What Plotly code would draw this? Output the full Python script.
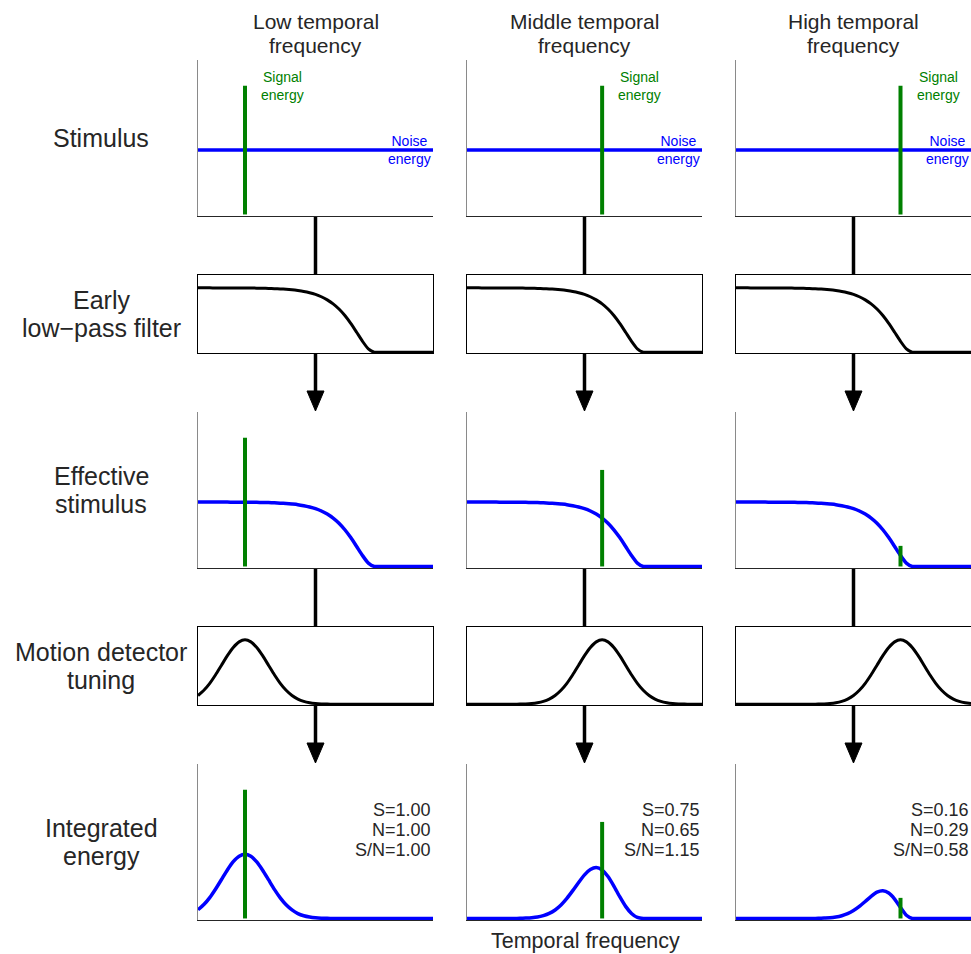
import plotly.graph_objects as go

# ---- data -------------------------------------------------------------
# temporal-frequency axis, expressed as a fraction of the plotted range
freq = [0.000, 0.025, 0.050, 0.075, 0.100, 0.125, 0.150, 0.175, 0.200, 0.225,
        0.250, 0.275, 0.300, 0.325, 0.350, 0.375, 0.400, 0.425, 0.450, 0.475,
        0.500, 0.525, 0.550, 0.575, 0.600, 0.625, 0.650, 0.675, 0.700, 0.725,
        0.750, 0.775, 0.800, 0.825, 0.850, 0.875, 0.900, 0.925, 0.950, 0.975,
        1.000]

columns = ["Low temporal<br>frequency", "Middle temporal<br>frequency",
           "High temporal<br>frequency"]
rows = ["Stimulus", "Early<br>low\u2212pass filter", "Effective<br>stimulus",
        "Motion detector<br>tuning", "Integrated<br>energy"]

# stimulus
noise_energy = 0.5
signal_freq = [0.200, 0.575, 0.700]
signal_energy = [1.0, 1.0, 1.0]

# early low-pass filter gain
lowpass = [1.000, 1.000, 1.000, 0.999, 0.999, 0.999, 0.999, 0.998, 0.998, 0.997,
           0.996, 0.994, 0.992, 0.988, 0.984, 0.978, 0.970, 0.959, 0.945, 0.925,
           0.898, 0.862, 0.814, 0.752, 0.672, 0.571, 0.449, 0.311, 0.170, 0.051,
           0.000, 0.000, 0.000, 0.000, 0.000, 0.000, 0.000, 0.000, 0.000, 0.000,
           0.000]

# noise energy after filtering
effective_noise = [0.500, 0.500, 0.500, 0.500, 0.500, 0.500, 0.499, 0.499, 0.499, 0.498,
                   0.498, 0.497, 0.496, 0.494, 0.492, 0.489, 0.485, 0.480, 0.472, 0.462,
                   0.449, 0.431, 0.407, 0.376, 0.336, 0.285, 0.224, 0.155, 0.085, 0.026,
                   0.000, 0.000, 0.000, 0.000, 0.000, 0.000, 0.000, 0.000, 0.000, 0.000,
                   0.000]

# motion detector tuning, one curve per column
tuning = [
    [0.1353, 0.2163, 0.3247, 0.4578, 0.6065, 0.7548, 0.8825, 0.9692, 1.0000, 0.9692,
     0.8825, 0.7548, 0.6065, 0.4578, 0.3247, 0.2163, 0.1353, 0.0796, 0.0439, 0.0228,
     0.0111, 0.0051, 0.0022, 0.0009, 0.0003, 0.0000, 0.0000, 0.0000, 0.0000, 0.0000,
     0.0000, 0.0000, 0.0000, 0.0000, 0.0000, 0.0000, 0.0000, 0.0000, 0.0000, 0.0000,
     0.0000],
    [0.0000, 0.0000, 0.0000, 0.0000, 0.0000, 0.0000, 0.0000, 0.0003, 0.0009, 0.0022,
     0.0051, 0.0111, 0.0228, 0.0439, 0.0796, 0.1353, 0.2163, 0.3247, 0.4578, 0.6065,
     0.7548, 0.8825, 0.9692, 1.0000, 0.9692, 0.8825, 0.7548, 0.6065, 0.4578, 0.3247,
     0.2163, 0.1353, 0.0796, 0.0439, 0.0228, 0.0111, 0.0051, 0.0022, 0.0009, 0.0003,
     0.0001],
    [0.0000, 0.0000, 0.0000, 0.0000, 0.0000, 0.0000, 0.0000, 0.0000, 0.0000, 0.0000,
     0.0000, 0.0000, 0.0003, 0.0009, 0.0022, 0.0051, 0.0111, 0.0228, 0.0439, 0.0796,
     0.1353, 0.2163, 0.3247, 0.4578, 0.6065, 0.7548, 0.8825, 0.9692, 1.0000, 0.9692,
     0.8825, 0.7548, 0.6065, 0.4578, 0.3247, 0.2163, 0.1353, 0.0796, 0.0439, 0.0228,
     0.0111],
]

# integrated noise energy, one curve per column
integrated_noise = [
    [0.068, 0.108, 0.162, 0.229, 0.303, 0.377, 0.441, 0.484, 0.499, 0.483,
     0.439, 0.375, 0.301, 0.226, 0.160, 0.106, 0.066, 0.038, 0.021, 0.011,
     0.005, 0.002, 0.001, 0.000, 0.000, 0.000, 0.000, 0.000, 0.000, 0.000,
     0.000, 0.000, 0.000, 0.000, 0.000, 0.000, 0.000, 0.000, 0.000, 0.000,
     0.000],
    [0.000, 0.000, 0.000, 0.000, 0.000, 0.000, 0.000, 0.000, 0.000, 0.001,
     0.003, 0.006, 0.011, 0.022, 0.039, 0.066, 0.105, 0.156, 0.216, 0.280,
     0.339, 0.380, 0.395, 0.376, 0.326, 0.252, 0.169, 0.094, 0.039, 0.008,
     0.000, 0.000, 0.000, 0.000, 0.000, 0.000, 0.000, 0.000, 0.000, 0.000,
     0.000],
    [0.000, 0.000, 0.000, 0.000, 0.000, 0.000, 0.000, 0.000, 0.000, 0.000,
     0.000, 0.000, 0.000, 0.000, 0.001, 0.003, 0.005, 0.011, 0.021, 0.037,
     0.061, 0.093, 0.132, 0.172, 0.204, 0.215, 0.198, 0.151, 0.085, 0.025,
     0.000, 0.000, 0.000, 0.000, 0.000, 0.000, 0.000, 0.000, 0.000, 0.000,
     0.000],
]

# signal energy reaching the detector, and the summary numbers
signal_S = [1.00, 0.75, 0.16]
noise_N = [1.00, 0.65, 0.29]
snr = [1.00, 1.15, 0.58]

# ---- layout geometry (pixels) -----------------------------------------
W, H = 971, 954
col_left = [198, 467, 736]
col_w = 235
row_top = [60, 275, 412, 627, 764]
row_h = [156, 78, 156, 78, 156]
boxed_rows = {1, 3}

FONT = "Liberation Sans, Arial, Helvetica, sans-serif"
TXT = "#262626"
GREEN = "#008000"
BLUE = "#0000ff"
YR = [-0.012, 1.2]


def px(x):
    return x / W


def py(y):
    return 1 - y / H


fig = go.Figure()
layout_axes = {}


def axis_names(r, c):
    n = r * 3 + c + 1
    s = "" if n == 1 else str(n)
    return "x" + s, "y" + s, "xaxis" + s, "yaxis" + s


for r in range(5):
    for c in range(3):
        xa, ya, xkey, ykey = axis_names(r, c)
        boxed = r in boxed_rows
        layout_axes[xkey] = dict(
            domain=[px(col_left[c]), px(col_left[c] + col_w)],
            range=[0, 1], anchor=ya, showgrid=False, zeroline=False,
            showticklabels=False, ticks="", showline=True,
            linecolor="#000000" if boxed else TXT, linewidth=1,
            mirror=boxed, fixedrange=True,
        )
        layout_axes[ykey] = dict(
            domain=[py(row_top[r] + row_h[r]), py(row_top[r])],
            range=YR, anchor=xa, showgrid=False, zeroline=False,
            showticklabels=False, ticks="", showline=True,
            linecolor="#000000" if boxed else "#8a8a8a", linewidth=1,
            mirror=boxed, fixedrange=True,
        )


def add_line(r, c, x, y, color, width):
    xa, ya, _, _ = axis_names(r, c)
    fig.add_trace(go.Scatter(
        x=x, y=y, xaxis=xa, yaxis=ya, mode="lines",
        line=dict(color=color, width=width, shape="spline", smoothing=0.6),
        hoverinfo="skip", showlegend=False))


def add_signal(r, c, height):
    xa, ya, _, _ = axis_names(r, c)
    fig.add_trace(go.Scatter(
        x=[signal_freq[c], signal_freq[c]], y=[0, height], xaxis=xa, yaxis=ya,
        mode="lines", line=dict(color=GREEN, width=4),
        hoverinfo="skip", showlegend=False))


annotations = []
for c in range(3):
    # row 0: stimulus
    add_line(0, c, [freq[0], freq[-1]], [noise_energy, noise_energy], BLUE, 3.5)
    add_signal(0, c, signal_energy[c])
    xa, ya, _, _ = axis_names(0, c)
    annotations.append(dict(
        x=signal_freq[c] + 0.16, y=signal_energy[c], xref=xa, yref=ya,
        text="Signal<br>energy", showarrow=False, xanchor="center", yanchor="middle",
        font=dict(family=FONT, size=14, color=GREEN)))
    annotations.append(dict(
        x=0.9, y=noise_energy, xref=xa, yref=ya,
        text="Noise<br>energy", showarrow=False, xanchor="center", yanchor="middle",
        font=dict(family=FONT, size=14, color=BLUE)))

    # row 1: low-pass filter
    add_line(1, c, freq, lowpass, "#000000", 3)

    # row 2: effective stimulus
    add_line(2, c, freq, effective_noise, BLUE, 3.5)
    add_signal(2, c, signal_S[c])

    # row 3: detector tuning
    add_line(3, c, freq, tuning[c], "#000000", 3)

    # row 4: integrated energy
    add_line(4, c, freq, integrated_noise[c], BLUE, 3.5)
    add_signal(4, c, signal_S[c])
    xa, ya, _, _ = axis_names(4, c)
    for k, txt in enumerate(["S=%.2f" % signal_S[c], "N=%.2f" % noise_N[c],
                             "S/N=%.2f" % snr[c]]):
        annotations.append(dict(
            x=1.0, y=0.705 - 0.128 * k, xref=xa + " domain", yref=ya + " domain",
            text=txt, showarrow=False, xanchor="right", yanchor="middle",
            font=dict(family=FONT, size=18, color=TXT)))

# column titles
for c, title in enumerate(columns):
    cx = px(col_left[c] + col_w / 2)
    for k, part in enumerate(title.split("<br>")):
        annotations.append(dict(
            x=cx, y=py(21.5 + 24 * k), xref="paper", yref="paper", text=part,
            showarrow=False, xanchor="center", yanchor="middle",
            font=dict(family=FONT, size=21, color=TXT)))

# row labels
for r, label in enumerate(rows):
    parts = label.split("<br>")
    centre = row_top[r] + row_h[r] / 2
    offset = -14 * (len(parts) - 1)
    for k, part in enumerate(parts):
        annotations.append(dict(
            x=px(101), y=py(centre + offset + 28 * k), xref="paper", yref="paper",
            text=part, showarrow=False, xanchor="center", yanchor="middle",
            font=dict(family=FONT, size=25, color=TXT)))

# shared frequency label
annotations.append(dict(
    x=px(col_left[1] + col_w / 2 + 1), y=py(940.5), xref="paper", yref="paper",
    text="Temporal frequency", showarrow=False, xanchor="center", yanchor="middle",
    font=dict(family=FONT, size=21.5, color=TXT)))

# connectors between stages: plain line, then arrow, alternating
shapes = []
for c in range(3):
    cx = col_left[c] + col_w / 2
    for r in range(4):
        y0 = row_top[r] + row_h[r] + 1
        y1 = row_top[r + 1]
        with_head = r in (1, 3)
        end = y1 - 18 if with_head else y1
        shapes.append(dict(type="line", xref="paper", yref="paper",
                           x0=px(cx), x1=px(cx), y0=py(y0), y1=py(end),
                           line=dict(color="#000000", width=3.5)))
        if with_head:
            tip = y1 - 1
            path = "M %.5f,%.5f L %.5f,%.5f L %.5f,%.5f Z" % (
                px(cx - 8.5), py(tip - 20), px(cx + 8.5), py(tip - 20), px(cx), py(tip))
            shapes.append(dict(type="path", xref="paper", yref="paper", path=path,
                               fillcolor="#000000", line=dict(color="#000000", width=1)))

fig.update_layout(
    width=W, height=H, margin=dict(l=0, r=0, t=0, b=0),
    paper_bgcolor="white", plot_bgcolor="white",
    annotations=annotations, shapes=shapes, showlegend=False,
    **layout_axes)

fig.write_html("out.html")
